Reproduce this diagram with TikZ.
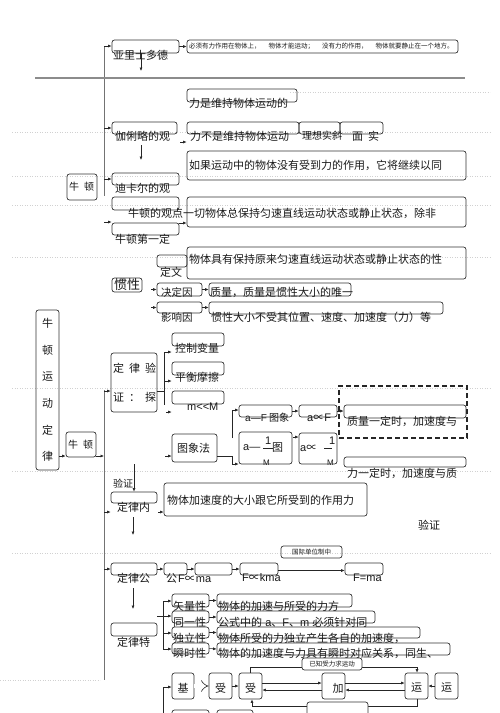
\documentclass[tikz,border=0pt]{standalone}
\usepackage{fontspec}
\setmainfont{Noto Sans CJK SC}
\newfontfamily\lat{Liberation Sans}
\usetikzlibrary{arrows.meta,fit}
\begin{document}
\begin{tikzpicture}[x=1pt,y=-1pt]
\tikzset{
 bx/.style={draw=black!80, rounded corners=2.5pt, line width=0.7pt, inner sep=0pt},
 tx/.style={inner sep=0pt, anchor=west, font=\fontsize{11}{13}\selectfont, text=black!90},
 tten/.style={font=\fontsize{10}{12}\selectfont},
 sm/.style={inner sep=0pt, font=\fontsize{6.5}{8}\selectfont, text=black!90},
 arr/.style={draw=black!85, line width=0.6pt, -{Latex[length=3.5pt,width=3pt]}},
 ln/.style={draw=black!85, line width=0.6pt},
 vl/.style={draw=black!55, line width=1pt},
 hl/.style={draw=black!45, line width=1.3pt},
 dot/.style={draw=black!18, line width=0.5pt, dotted},
}
\fill[white] (0,0) rectangle (500,713);
\useasboundingbox (0,0) rectangle (500,713);
% faint page guide lines
\foreach \yy in {132,176,205,257,388,471,553} {\draw[dot] (12,\yy) -- (490,\yy);}
\draw[dot] (290,92) -- (490,92);
\draw[dot] (0,680) -- (100,680);

% ---------- top: Aristotle ----------
\node[bx,fit={(112,40)(179,53)}] (A1) {};
\node[tx] (A1t) at (113,55) {亚里士多德};
\node[bx,fit={(187,40)(458,53)}] (A2) {};
\node[sm,anchor=west] (A2t) at (189,46.5) {必须有力作用在物体上，\hspace{8pt}物体才能运动；\hspace{8pt}没有力的作用，\hspace{8pt}物体就要静止在一个地方。};
\coordinate (V1a) at (104,46); \coordinate (V1b) at (104,196);
\draw[vl] (V1a) -- (V1b);
\draw[arr] (V1a) -- (V1a -| A1.west);
\draw[arr] (A1.east) -- (A2.west);
\coordinate (D1a) at (141,53); \coordinate (D1b) at (141,71);
\draw[arr] (D1a) -- (D1b);
\coordinate (H1a) at (35,78); \coordinate (H1b) at (465,78);
\draw[hl] (H1a) -- (H1b);

% ---------- Galileo / Descartes / Newton ----------
\node[bx,fit={(187,89)(297,102)}] (B1) {};
\node[tx] (B1t) at (189,103) {力是维持物体运动的};
\node[bx,fit={(112,122)(177,134)}] (G1) {};
\node[tx] (G1t) at (115,136) {伽俐略的观};
\coordinate (V1g) at (104,128);
\draw[arr] (V1g) -- (V1g -| G1.west);
\node[bx,fit={(187,122)(299,134)}] (B2) {};
\node[tx] (B2t) at (190,136) {力不是维持物体运动};
\node[bx,fit={(299,122)(340,134)}] (B3) {};
\node[tx,tten] (B3t) at (302,136) {理想实斜};
\node[bx,fit={(340,122)(383,134)}] (B4) {};
\node[tx] (B4t) at (352,136) {面\hspace{5pt}实};
\coordinate (S1a) at (180,142); \draw[arr] (S1a) -- (S1a -| B2.west);
\coordinate (D2a) at (141,145); \coordinate (D2b) at (141,160); \draw[arr] (D2a) -- (D2b);
\node[bx,fit={(187,151)(466,180)}] (B5) {};
\node[tx] (B5t) at (189,165) {如果运动中的物体没有受到力的作用，它将继续以同};
\node[bx,fit={(67,174)(97,200)}] (N0) {};
\node[tx,tten] (N0t) at (69,187) {牛\hspace{5pt}顿};
\node[bx,fit={(112,173)(179,185)}] (D1) {};
\node[tx] (D1t) at (115,188) {迪卡尔的观};
\coordinate (V1d) at (104,179); \draw[arr] (V1d) -- (V1d -| D1.west);
\node[bx,fit={(112,197)(179,210)}] (E1) {};
\node[bx,fit={(187,197)(466,227)}] (B6) {};
\node[tx] (B6t) at (128,213) {牛顿的观点一切物体总保持匀速直线运动状态或静止状态，除非};
\node[bx,fit={(112,223)(179,235)}] (N1) {};
\node[tx] (N1t) at (115,239) {牛顿第一定};
\coordinate (S2a) at (104,222); \draw[arr] (S2a) -- (S2a -| N1.west);
\coordinate (S3a) at (179,223); \draw[arr] (S3a) -- (S3a -| B6.west);

% ---------- inertia ----------
\node[bx,fit={(157,255)(187,267)}] (DY) {};
\node[tx] (DYt) at (160,272) {定文};
\node[bx,fit={(187,247)(466,279)}] (B7) {};
\node[tx] (B7t) at (189,259) {物体具有保持原来匀速直线运动状态或静止状态的性};
\node[bx,fit={(112,278)(142,292)}] (GX) {};
\node[tx,font=\fontsize{13}{15}\selectfont] (GXt) at (114,285) {惯性};
\node[bx,fit={(157,283)(202,296)}] (JD) {};
\node[tx,font=\fontsize{10.5}{12}\selectfont] (JDt) at (161,292) {决定因};
\coordinate (S4a) at (151,289.5); \draw[arr] (S4a) -- (S4a -| JD.west);
\node[bx,fit={(209,283)(351,296)}] (ZL) {};
\node[tx] (ZLt) at (210,292) {质量，质量是惯性大小的唯一};
\draw[arr] (JD.east) -- (ZL.west);
\node[bx,fit={(157,302)(202,313)}] (YX) {};
\node[tx,font=\fontsize{10.5}{12}\selectfont] (YXt) at (161,317) {影响因};
\coordinate (S5a) at (151,307.5); \draw[arr] (S5a) -- (S5a -| YX.west);
\node[bx,fit={(209,302)(443,314)}] (B8) {};
\node[tx] (B8t) at (211,317) {惯性大小不受其位置、速度、加速度（力）等};
\draw[arr] (YX.east) -- (YX.east -| B8.west);

% ---------- Newton's laws (left) ----------
\node[bx,fit={(36,310)(59,470)}] (NT) {};
\node[tx,anchor=center] (NT1) at (47.5,323) {牛};
\node[tx,anchor=center] (NT2) at (47.5,350) {顿};
\node[tx,anchor=center] (NT3) at (47.5,377) {运};
\node[tx,anchor=center] (NT4) at (47.5,403) {动};
\node[tx,anchor=center] (NT5) at (47.5,430) {定};
\node[tx,anchor=center] (NT6) at (47.5,456) {律};
\node[bx,fit={(66,432)(96,457)}] (N2) {};
\node[tx,tten] (N2t) at (68,445) {牛\hspace{5pt}顿};
\coordinate (S6a) at (59,456); \draw[arr] (S6a) -- (S6a -| N2.west);
\coordinate (S7a) at (96,456); \coordinate (S7b) at (104,456); \draw[arr] (S7a) -- (S7b);
\coordinate (V2a) at (104,390); \coordinate (V2b) at (104,680);
\draw[vl] (V2a) -- (V2b);

% ---------- verification ----------
\node[bx,fit={(111,353)(157,412)}] (YZ) {};
\node[tx] (YZt1) at (113,368) {定\hspace{5pt}律\hspace{5pt}验};
\node[tx] (YZt2) at (113,397) {证\hspace{5pt}：\hspace{5pt}探};
\coordinate (V2c) at (104,391); \draw[arr] (V2c) -- (V2c -| YZ.west);
\node[bx,fit={(172,333)(224,346)}] (KZ) {};
\node[tx] (KZt) at (175,348) {控制变量};
\node[bx,fit={(172,362)(224,375)}] (PH) {};
\node[tx] (PHt) at (175,377) {平衡摩擦};
\node[bx,fit={(172,391)(224,404)}] (MM) {};
\node[tx,font=\lat\fontsize{11}{13}\selectfont] (MMt) at (187,407) {m<<M};
\coordinate (YZo) at (157,391); \coordinate (T1) at (164,352); \coordinate (T2) at (164,405);
\coordinate (T3) at (164,381); \coordinate (T4) at (166,412);
\draw[ln] (YZo) -- (YZo -| T1);
\draw[ln] (T1) -- (T2);
\draw[arr] (T1) -- (T1 -| KZ.west);
\draw[arr] (T3) -- (T3 -| PH.west);
\draw[arr] (T4) -- (T4 -| MM.west);

\node[bx,fit={(172,434)(217,462)}] (TX) {};
\node[tx] (TXt) at (177,448) {图象法};
\coordinate (T5) at (165,456); \draw[arr] (T5) -- (T5 -| TX.west);

\node[bx,fit={(239,405)(292,417)}] (AF) {};
\node[tx,tten] (AFt) at (245,418) {{\lat a—F} 图象};
\node[bx,fit={(299,405)(337,417)}] (AP) {};
\node[tx] (APt) at (307,418) {{\lat a}∝{\lat F}};
\draw[arr] (AF.east) -- (AP.west);
\node[draw=black!85, dash pattern=on 5pt off 3pt, line width=1.3pt, inner sep=0pt, fit={(339,386)(467,438)}] (DS) {};
\node[bx,fit={(344,405)(466,418)}] (ZD) {};
\node[tx] (ZDt) at (347,421) {质量一定时，加速度与};
\draw[arr] (AP.east) -- (AP.east -| ZD.west);

\node[bx,fit={(239,432)(292,464)}] (AM) {};
\node[tx,font=\lat\fontsize{11}{13}\selectfont] (AMa) at (243,448) {a—};
\node[tx,font=\lat\fontsize{11}{13}\selectfont] (AM1) at (265,441) {1};
\node[tx,font=\lat\fontsize{8}{9}\selectfont] (AMm) at (263,463) {M};
\draw[ln] (AM1.south west) ++(-2,3) coordinate (AMl) -- ++(10,0) coordinate (AMr);
\node[tx] (AMt) at (272,448) {图};
\node[bx,fit={(299,433)(337,464)}] (AQ) {};
\node[tx] (AQa) at (300,448) {{\lat a}∝};
\node[tx,font=\lat\fontsize{11}{13}\selectfont] (AQ1) at (329,441) {1};
\node[tx,font=\lat\fontsize{8}{9}\selectfont] (AQm) at (327,463) {M};
\draw[ln] (AQ1.south west) ++(-5,3) coordinate (AQl) -- ++(8,0) coordinate (AQr);
\coordinate (W1) at (293,437); \draw[arr] (W1) -- (W1 -| AQ.west);
\node[bx,fit={(344,457)(466,467)}] (LD) {};
\node[tx] (LDt) at (347,473) {力一定时，加速度与质};

\coordinate (U1) at (217,456); \coordinate (U2) at (232,456); \coordinate (U3) at (232,464);
\draw[ln] (U1) -- (U2) -- (U3);
\draw[arr] (U3) -- (U3 -| AM.west);
\coordinate (U4) at (232,438); \coordinate (U5) at (232,410);
\draw[ln] (U4) -- (U5);
\draw[arr] (U5) -- (U5 -| AF.west);

% ---------- law content ----------
\node[tx,tten] (YZ3) at (113,484) {验证};
\node[bx,fit={(111,492)(157,503)}] (DLN) {};
\node[tx] (DLNt) at (117,507) {定律内};
\coordinate (X1) at (134,464); \draw[arr] (X1) -- (X1 |- DLN.north);
\node[bx,fit={(164,483)(367,516)}] (NR) {};
\node[tx] (NRt) at (167,500) {物体加速度的大小跟它所受到的作用力};
\coordinate (X2) at (104,512); \draw[arr] (X2) -- (X2 -| DLN.west);
\coordinate (X3) at (158,512); \draw[arr] (X3) -- (X3 -| NR.west);
\coordinate (X4) at (133,517); \coordinate (X5) at (133,535); \draw[arr] (X4) -- (X5);
\node[tx] (YZ4) at (418,525) {验证};

% ---------- formula ----------
\node[bx,fit={(281,546)(342,558)}] (GJ) {};
\node[sm] (GJt) at (GJ.center) {国际单位制中};
\node[bx,fit={(111,563)(157,575)}] (DLG) {};
\node[tx] (DLGt) at (117,578) {定律公};
\coordinate (X6) at (104,569); \draw[arr] (X6) -- (X6 -| DLG.west);
\node[bx,fit={(164,563)(187,575)}] (G1b) {};
\node[bx,fit={(195,563)(232,575)}] (G2b) {};
\node[bx,fit={(240,563)(278,575)}] (G3b) {};
\node[bx,fit={(345,563)(383,575)}] (G4b) {};
\draw[arr] (DLG.east) -- (G1b.west);
\draw[arr] (G1b.east) -- (G2b.west);
\draw[arr] (G2b.east) -- (G3b.west);
\draw[arr] ([yshift=-1.5pt]G3b.east) -- ([yshift=-1.5pt]G4b.west);
\node[tx] (G1t) at (166,578) {公\hspace{1pt}{\lat F}∝{\lat ma}};
\node[tx] (G3t) at (242,578) {{\lat F}∝{\lat kma}};
\node[tx,font=\lat\fontsize{11}{13}\selectfont] (G4t) at (353,578) {F=ma};

% ---------- properties ----------
\coordinate (X7) at (133,588); \coordinate (X8) at (133,609); \draw[arr] (X7) -- (X8);
\node[bx,fit={(111,623)(157,636)}] (DLT) {};
\node[tx] (DLTt) at (117,642) {定律特};
\node[bx,fit={(172,594)(209,607)}] (S1) {};
\node[bx,fit={(172,611)(209,623)}] (S2) {};
\node[bx,fit={(172,627)(209,638)}] (S3) {};
\node[bx,fit={(172,643)(209,654)}] (S4) {};
\node[bx,fit={(217,594)(352,607)}] (P1) {};
\node[bx,fit={(217,611)(375,623)}] (P2) {};
\node[bx,fit={(217,627)(420,638)}] (P3) {};
\node[bx,fit={(217,643)(450,655)}] (P4) {};
\coordinate (Y0) at (157,616); \coordinate (Y1) at (163,616);
\coordinate (Y2) at (163,601); \coordinate (Y3) at (163,649); \coordinate (Y4) at (163,633);
\draw[ln] (Y0) -- (Y1);
\draw[ln] (Y2) -- (Y3);
\draw[arr] (Y2) -- (Y2 -| S1.west);
\draw[arr] (Y1) -- (Y1 -| S2.west);
\draw[arr] (Y4) -- (Y4 -| S3.west);
\draw[arr] (Y3) -- (Y3 -| S4.west);
\draw[arr] (S1.east) -- (P1.west);
\draw[arr] (S2.east) -- (P2.west);
\draw[arr] (S3.east) -- (P3.west);
\draw[arr] (S4.east) -- (P4.west);
\node[tx] (S1t) at (173,606) {矢量性};
\node[tx] (S2t) at (173,622) {同一性};
\node[tx] (S3t) at (173,638) {独立性};
\node[tx] (S4t) at (173,653) {瞬时性};
\node[tx] (P1t) at (218,606) {物体的加速与所受的力方};
\node[tx] (P2t) at (218,622) {公式中的{\lat\ a}、{\lat F}、{\lat m }必须针对同};
\node[tx] (P3t) at (218,638) {物体所受的力独立产生各自的加速度，};
\node[tx] (P4t) at (218,653) {物体的加速度与力具有瞬时对应关系，同生、};

% ---------- bottom flow ----------
\node[bx,fit={(172,673)(194,699)}] (JB) {};
\node[bx,fit={(209,673)(232,699)}] (SL1) {};
\node[bx,fit={(239,673)(262,699)}] (SL2) {};
\node[bx,fit={(322,673)(345,699)}] (JS) {};
\node[bx,fit={(405,673)(428,699)}] (YD1) {};
\node[bx,fit={(435,673)(458,699)}] (YD2) {};
\node[tx,anchor=center] (JBt) at (183,688) {基};
\node[tx,anchor=center] (SL1t) at (220.5,688) {受};
\node[tx,anchor=center] (SL2t) at (250.5,688) {受};
\node[tx,anchor=center] (JSt) at (338,688) {加};
\node[tx,anchor=center] (YD1t) at (416.5,688) {运};
\node[tx,anchor=center] (YD2t) at (446.5,688) {运};
\coordinate (Z1) at (250,667); \coordinate (Z2) at (417,667);
\draw[ln] (SL2.north -| Z1) -- (Z1) -- (Z2);
\draw[arr] (Z2) -- (Z2 |- YD1.north);
\node[bx,fill=white,fit={(302,658)(362,670)}] (YK) {};
\node[sm] (YKt) at (YK.center) {已知受力求运动};
\draw[draw=black!85, line width=0.6pt, double, double distance=3.5pt, -{Implies}] (JB.east) -- (SL1.west);
\draw[arr] (SL1.east) -- (SL2.west);
\draw[arr] ([yshift=3pt]SL2.east) -- ([yshift=3pt]JS.west);
\draw[arr] ([yshift=-4pt]JS.west) -- ([yshift=-4pt]SL2.east);
\draw[arr] ([yshift=3pt]JS.east) -- ([yshift=3pt]YD1.west);
\draw[arr] ([yshift=-4pt]YD1.west) -- ([yshift=-4pt]JS.east);
\draw[arr] (YD2.west) -- (YD1.east);
\coordinate (Z3) at (417,706); \coordinate (Z4) at (252,706);
\draw[ln] (YD1.south -| Z3) -- (Z3) -- (Z4);
\draw[arr] (Z4) -- (Z4 |- SL2.south);
\node[bx,fill=white,fit={(307,702)(368,725)}] (BX) {};
\coordinate (Z5) at (163,725); \coordinate (Z6) at (163,687);
\draw[ln] (Z5) -- (Z6);
\draw[arr] (Z6) -- (Z6 -| JB.west);
\node[bx,fit={(172,710)(209,728)}] (B9) {};
\node[bx,fit={(217,710)(253,728)}] (B10) {};
\end{tikzpicture}
\end{document}
